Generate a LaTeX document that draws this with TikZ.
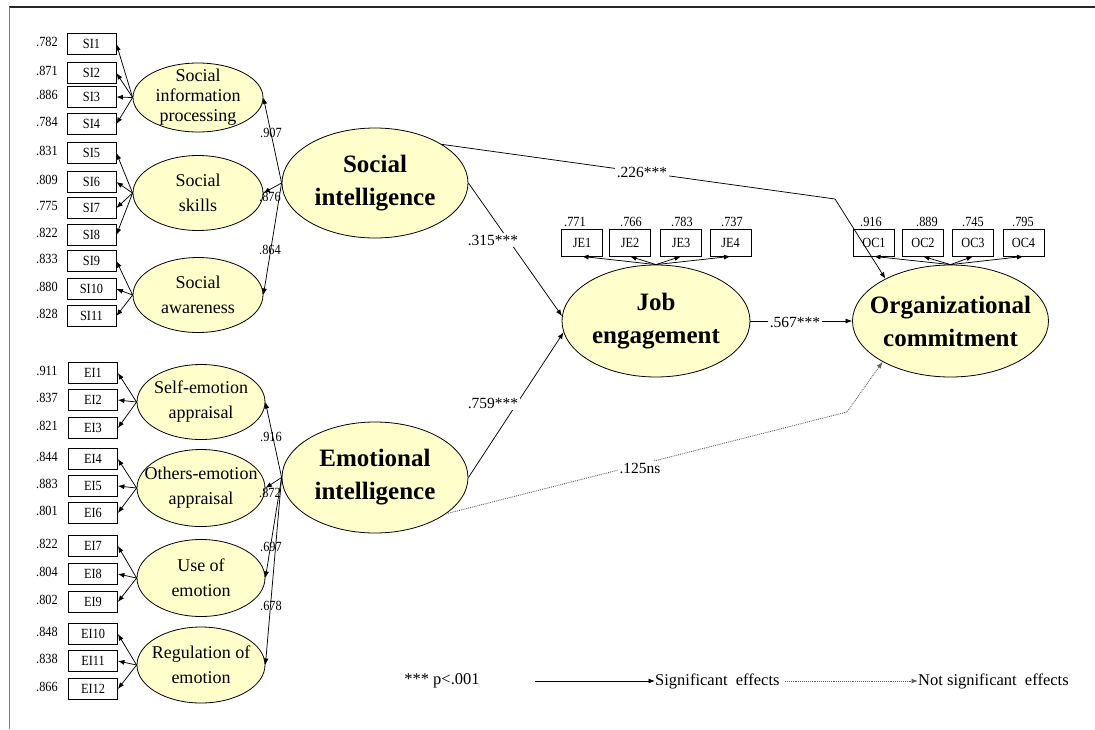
\documentclass[tikz,border=0pt]{standalone}
\usepackage{fontspec}
\setmainfont{Liberation Serif}
\newfontfamily\narrowfont[FakeStretch=0.88]{Liberation Serif}
\usetikzlibrary{shapes.geometric,arrows.meta}
\definecolor{elfill}{RGB}{255,255,204}
\begin{document}
\begin{tikzpicture}[x=1pt,y=-1pt,
  ind/.style={draw, line width=0.8pt, minimum width=49pt, minimum height=21pt, inner sep=0pt,
    font=\narrowfont\fontsize{14}{14}\selectfont},
  indt/.style={draw, line width=0.8pt, minimum width=41pt, minimum height=27pt, inner sep=0pt,
    font=\narrowfont\fontsize{14}{14}\selectfont},
  val/.style={inner sep=0pt, font=\narrowfont\fontsize{14}{14}\selectfont},
  subel/.style={ellipse, draw, line width=0.8pt, fill=elfill, inner sep=0pt},
  subtxt/.style={inner sep=0pt, align=center, font=\fontsize{18}{25}\selectfont},
  mainel/.style={ellipse, draw, line width=0.8pt, fill=elfill, inner sep=0pt},
  maintxt/.style={inner sep=0pt, align=center, font=\bfseries\fontsize{25}{33}\selectfont},
  arr/.style={-{Latex[length=6.5pt,width=5pt]}, line width=0.75pt},
  dotarr/.style={-{Latex[length=6.5pt,width=5pt]}, line width=0.9pt, densely dotted, gray!75!black},
  lbl/.style={fill=white, inner sep=1.5pt, font=\fontsize{15.5}{15.5}\selectfont},
  ld/.style={inner sep=0pt, font=\narrowfont\fontsize{14}{14}\selectfont},
  leg/.style={inner sep=0pt, anchor=west, font=\fontsize{16.5}{16.5}\selectfont}
]
\useasboundingbox (0,0) rectangle (1095,729);
% frame
\draw[line width=1.8pt, black!85] (9,7) coordinate (fa) -- (1095,7) coordinate (fb);
\draw[line width=1pt, gray] (fa) -- (9,729) coordinate (fc);

% ---------- Social intelligence indicators ----------
\foreach \n/\y/\v in {1/44/.782, 2/73/.871, 3/97/.886, 4/124/.784, 5/153/.831, 6/182/.809,
  7/208/.775, 8/235/.822, 9/261/.833, 10/289/.880, 11/316/.828} {
  \node[ind] (si\n) at (91.5,\y) {SI\n};
  \node[val] (vsi\n) at (47,\y-2) {\v};
}
% ---------- Emotional intelligence indicators ----------
\foreach \n/\y/\v in {1/373/.911, 2/400/.837, 3/428/.821, 4/459/.844, 5/486/.883, 6/513/.801,
  7/546/.822, 8/574/.804, 9/602/.802, 10/634/.848, 11/661/.838, 12/689/.866} {
  \node[ind] (ei\n) at (93,\y) {EI\n};
  \node[val] (vei\n) at (47,\y-2) {\v};
}

% ---------- first-order factors ----------
\node[subel, minimum width=130pt, minimum height=69pt] (sip) at (198,97.5) {};
\node[subtxt, font=\fontsize{18}{20}\selectfont] at (sip) {Social\\information\\processing};
\node[subel, minimum width=130pt, minimum height=75pt] (ssk) at (198,193) {};
\node[subtxt] at (ssk) {Social\\skills};
\node[subel, minimum width=130pt, minimum height=75pt] (saw) at (198,295) {};
\node[subtxt] at (saw) {Social\\awareness};

\node[subel, minimum width=128pt, minimum height=75pt] (sea) at (201,402) {};
\node[subtxt] at (sea) {Self-emotion\\appraisal};
\node[subel, minimum width=128pt, minimum height=77pt] (oea) at (201,488) {};
\node[subtxt] at (oea) {Others-emotion\\appraisal};
\node[subel, minimum width=128pt, minimum height=77pt] (uoe) at (201,578) {};
\node[subtxt] at (uoe) {Use of\\emotion};
\node[subel, minimum width=128pt, minimum height=76pt] (roe) at (201,665) {};
\node[subtxt] at (roe) {Regulation of\\emotion};

% indicator arrows
\foreach \n in {1,2,3,4} \draw[arr] (sip.west) -- (si\n.east);
\foreach \n in {5,6,7,8} \draw[arr] (ssk.west) -- (si\n.east);
\foreach \n in {9,10,11} \draw[arr] (saw.west) -- (si\n.east);
\foreach \n in {1,2,3} \draw[arr] (sea.west) -- (ei\n.east);
\foreach \n in {4,5,6} \draw[arr] (oea.west) -- (ei\n.east);
\foreach \n in {7,8,9} \draw[arr] (uoe.west) -- (ei\n.east);
\foreach \n in {10,11,12} \draw[arr] (roe.west) -- (ei\n.east);

% ---------- second-order factors ----------
\node[mainel, minimum width=186pt, minimum height=110pt] (si) at (375,183) {};
\node[maintxt] at (si) {Social\\intelligence};
\node[mainel, minimum width=186pt, minimum height=111pt] (ei) at (375,477.5) {};
\node[maintxt] at (ei) {Emotional\\intelligence};

\draw[arr] (si.west) -- (sip.east);
\draw[arr] (si.west) -- (ssk.east);
\draw[arr] (si.west) -- (saw.east);
\draw[arr] (ei.west) -- (sea.east);
\draw[arr] (ei.west) -- (oea.east);
\draw[arr] (ei.west) -- (uoe.east);
\draw[arr] (ei.west) -- (roe.east);

\node[ld] (l907) at (271,133) {.907};
\node[ld] (l876) at (270,197) {.876};
\node[ld] (l864) at (270,250) {.864};
\node[ld] (l916) at (271,437) {.916};
\node[ld] (l872) at (270,493) {.872};
\node[ld] (l697) at (271,547) {.697};
\node[ld] (l678) at (271,606) {.678};

% ---------- outcomes ----------
\node[mainel, minimum width=188pt, minimum height=112pt] (je) at (656,321) {};
\node[maintxt] at (je) {Job\\engagement};
\node[mainel, minimum width=196pt, minimum height=112pt] (oc) at (950.5,321) {};
\node[maintxt] at (oc) {Organizational\\commitment};

\foreach \n/\x/\vx/\v in {1/582/575/.771, 2/630/631/.766, 3/681/682/.783, 4/730.5/732/.737} {
  \node[indt] (je\n) at (\x,242.5) {JE\n};
  \node[val] (vje\n) at (\vx,222) {\v};
  \draw[arr] (je.north) -- (je\n.south);
}
\foreach \n/\x/\vx/\v in {1/874/871/.916, 2/923/927/.889, 3/973/973/.745, 4/1023.5/1023/.795} {
  \node[indt] (oc\n) at (\x,242.5) {OC\n};
  \node[val] (voc\n) at (\vx,222) {\v};
  \draw[arr] (oc.north) -- (oc\n.south);
}

% ---------- structural paths ----------
\coordinate (bend1) at (835,199);
\coordinate (bend2) at (847,412);
\draw[arr] (si.30) -- (bend1) -- (oc.147);
\node[lbl] (p226) at (642,172) {.226***};

\draw[arr] (si.east) -- (je.177);
\node[lbl] (p315) at (493,240) {.315***};

\draw[arr] (ei.east) -- (je.187);
\node[lbl] (p759) at (493,403) {.759***};

\draw[arr] (je.east) -- (oc.west);
\node[lbl] (p567) at (795,322) {.567***};

\draw[dotarr] (ei.-27) -- (bend2) -- (oc.211);
\node[lbl] (p125) at (640,468) {.125ns};

% ---------- legend ----------
\node[inner sep=0pt, font=\fontsize{16.5}{16.5}\selectfont] (pval) at (442,681) {*** p<.001};
\coordinate (sigA) at (535,681);
\node[leg] (sigt) at (655,681) {Significant\ \ effects};
\draw[arr] (sigA) -- (sigt.west);
\coordinate (nsA) at (785,681);
\node[leg] (nsigt) at (918,681) {Not significant\ \ effects};
\draw[dotarr] (nsA) -- (nsigt.west);
\end{tikzpicture}
\end{document}
